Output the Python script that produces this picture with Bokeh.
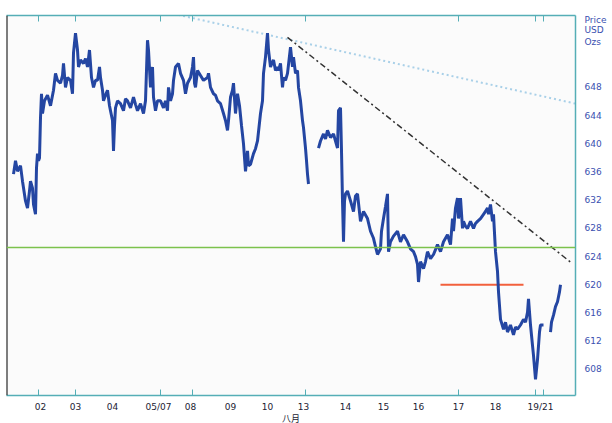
import numpy as np
from bokeh.plotting import figure
from bokeh.models import Range1d, LinearAxis, FixedTicker, Span
from bokeh.embed import file_html
from bokeh.resources import INLINE

NaN = float("nan")

# bar index (intraday bars) and price
bar = [5, 7, 9, 12, 14, 17, 19, 21, 22, 24, 25, 27, 28, 29, 30, 31, 32, 33, 34, 36,
       39, 42, 45, 47, 49, 52, 54, 55, 57, 59, 62, 64, 65, 67, 69, 70, 72, 75, 77, 79,
       81, 83, 85, 87, 89, 91, 92, 94, 95, 97, 99, 101, 102, 104, 105, 106, 107, 109, 112, 115,
       117, 119, 122, 125, 127, 129, 132, 135, 137, 139, 140, 142, 144, 145, 147, 149, 152, 155, 157, 159,
       160, 162, 164, 165, 167, 170, 172, 175, 177, 179, 182, 184, 185, 186, 187, 189, 192, 195, 199, 200,
       202, 205, 207, 209, 212, 215, 217, 219, 220, 222, 224, 225, 227, 229, 231, 233, 235, 237, 239, 240,
       242, 245, 247, 249, 252, 254, 255, 257, 259, 260, 262, 264, 265, 267, 269, 270, 272, 274, 275, 277,
       279, 282, 284, 285, 287, 289, 290, 292, 294, 295, 297, 298, 299, 300, 301,
       310, 312, 315, 317, 319, 322, 325, 327, 329, 330, 332, 333, 334, 335, 336, 337, 339, 342, 345, 347,
       349, 352, 355, 359, 362, 365, 367, 369, 372, 373, 375, 377, 379, 380, 382, 385, 389, 392, 395, 397,
       399, 402, 405, 407, 409, 410, 412, 415, 417, 419, 422, 425, 427, 429, 432, 435, 437, 439, 442, 444,
       445, 447, 449, 450, 452, 454, 455, 457, 459, 462, 465, 467, 469, 472, 475, 477, 479, 480, 482, 484,
       485, 487, 489, 490, 492, 495, 497, 499, 502, 505, 507, 509, 512, 515, 517, 519, 520, 522, 524, 525,
       527, 529, 531, 532, 535, 538,
       542, 543, 545, 547, 549, 551, 552]
price = [635.7, 637.6, 636.1, 636.9, 634.7, 631.9, 630.9, 633.3, 634.7, 633.7, 631.4, 630.0, 636.6, 638.6, 637.6, 638.0, 643.7, 647.1, 644.3, 646.1,
         646.9, 645.4, 647.6, 650.0, 649.0, 648.6, 649.7, 651.4, 648.0, 649.4, 649.0, 647.1, 652.9, 655.7, 653.3, 650.9, 651.9, 651.4, 652.1, 650.9,
         653.3, 649.4, 648.0, 649.0, 649.0, 650.9, 649.4, 647.6, 646.1, 646.9, 647.6, 645.4, 644.7, 643.3, 639.0, 642.6, 645.1, 646.1, 645.7, 644.7,
         646.4, 646.1, 645.1, 646.6, 645.6, 644.7, 645.7, 644.3, 646.1, 654.7, 653.3, 648.0, 650.9, 646.6, 644.7, 646.1, 646.1, 645.1, 646.1, 644.7,
         648.0, 646.1, 647.1, 649.0, 650.9, 651.4, 650.0, 649.0, 647.1, 648.6, 649.4, 650.9, 652.3, 648.6, 648.0, 650.4, 649.7, 649.0, 649.4, 650.0,
         648.0, 647.1, 646.9, 646.1, 645.7, 644.3, 643.3, 641.9, 643.3, 646.6, 647.6, 648.6, 644.3, 647.1, 645.4, 642.6, 640.0, 636.1, 639.0, 636.9,
         637.1, 638.6, 639.3, 640.4, 644.3, 646.1, 650.0, 652.3, 655.7, 653.3, 650.9, 651.6, 651.9, 650.4, 650.9, 650.4, 651.4, 648.0, 649.4, 649.0,
         650.0, 653.7, 650.9, 652.3, 650.0, 650.4, 648.0, 646.1, 643.3, 642.3, 639.4, 637.6, 635.7, 634.3, NaN,
         639.4, 640.4, 641.4, 640.7, 641.9, 640.9, 641.4, 640.4, 639.4, 644.7, 645.1, 639.0, 631.9, 626.1, 631.9, 632.9, 633.3, 631.9, 630.4, 632.6,
         632.9, 629.0, 630.4, 629.4, 627.6, 626.6, 625.4, 624.3, 625.1, 627.6, 629.4, 631.1, 632.9, 624.7, 626.1, 626.9, 627.6, 626.1, 627.1, 626.6,
         626.1, 625.1, 624.7, 624.0, 622.9, 620.4, 623.3, 622.3, 623.3, 624.7, 623.7, 624.3, 625.0, 625.7, 624.7, 626.1, 626.6, 627.1, 625.7, 629.4,
         627.6, 630.9, 632.3, 629.4, 632.3, 628.0, 629.0, 628.3, 628.0, 629.0, 628.0, 628.7, 629.0, 629.4, 630.0, 630.4, 630.9, 630.0, 631.4, 629.0,
         630.0, 624.7, 621.9, 619.0, 615.1, 613.7, 614.7, 613.3, 614.3, 612.9, 614.0, 613.7, 614.3, 615.1, 614.7, 616.1, 618.0, 614.3, 611.4, 610.0,
         606.6, 609.4, 613.3, 614.3, 614.3, NaN,
         613.3, 614.7, 615.7, 616.9, 617.6, 619.0, 620.0]

tick_bars = [32, 67, 104, 150, 182, 222, 259, 295, 337, 375, 410, 450, 487, 532]
tick_labels = ["02", "03", "04", "05/07", "08", "09", "10", "13", "14", "15", "16", "17", "18", "19/21"]
week_ticks = [30, 67, 152, 184, 297, 450, 527, 535]
price_ticks = [608, 612, 616, 620, 624, 628, 632, 636, 640, 644, 648]
unit_title = ["Price", "USD", "Ozs"]
unit_title_at = [657.6, 656.2, 654.5]
month_label = "八月"

support_level = 625.3
target_level = 620.0
target_bars = [432, 515]
long_trend_bars = [160, 567]
long_trend_prices = [658.6, 645.7]
short_trend_bars = [279, 564]
short_trend_prices = [655.1, 623.0]

TEAL = "#55aeb6"
BLUE = "#2446a2"
LABEL_BLUE = "#3a50b0"

p = figure(frame_width=569, frame_height=380,
           x_range=Range1d(-2, 567), y_range=Range1d(604.3, 658.2),
           output_backend="svg", toolbar_location=None,
           x_axis_location=None, y_axis_location=None,
           min_border_left=6, min_border_right=37,
           min_border_top=15, min_border_bottom=27)
p.grid.visible = False
p.background_fill_color = "#fbfbfb"
p.border_fill_color = "white"
p.outline_line_color = None

# right price axis (unit title sits at the top of the label column)
right = LinearAxis(ticker=FixedTicker(ticks=price_ticks + unit_title_at))
right.major_label_overrides = {v: t for v, t in zip(unit_title_at, unit_title)}
right.axis_line_color = TEAL
right.axis_line_width = 1.5
right.major_tick_line_color = None
right.minor_tick_line_color = None
right.major_label_standoff = 3
right.major_label_text_font = "DejaVu Sans"
right.major_label_text_font_size = "9px"
right.major_label_text_color = LABEL_BLUE
p.add_layout(right, "right")

bottom = LinearAxis(ticker=FixedTicker(ticks=tick_bars, minor_ticks=week_ticks))
bottom.major_label_overrides = {b: l for b, l in zip(tick_bars, tick_labels)}
bottom.axis_line_color = TEAL
bottom.axis_line_width = 1.5
bottom.major_tick_line_color = None
bottom.minor_tick_line_color = TEAL
bottom.minor_tick_in = 6
bottom.minor_tick_out = 0
bottom.major_label_standoff = 0
bottom.major_label_text_font = "DejaVu Sans"
bottom.major_label_text_font_size = "9px"
bottom.major_label_text_color = "#222233"
bottom.axis_label = month_label
bottom.axis_label_standoff = -3
bottom.axis_label_text_font = "Noto Sans CJK SC"
bottom.axis_label_text_font_style = "normal"
bottom.axis_label_text_font_size = "9px"
bottom.axis_label_text_color = "#222233"
p.add_layout(bottom, "below")

top = LinearAxis(ticker=FixedTicker(ticks=tick_bars, minor_ticks=week_ticks))
top.major_label_overrides = {b: "" for b in tick_bars}
top.axis_line_color = TEAL
top.axis_line_width = 1.5
top.major_tick_line_color = None
top.minor_tick_line_color = TEAL
top.minor_tick_in = 6
top.minor_tick_out = 0
top.major_label_standoff = 0
top.major_label_text_font_size = "1px"
p.add_layout(top, "above")

p.add_layout(Span(location=-2, dimension="height", line_color="black", line_width=2))

# annotation lines
p.line(long_trend_bars, long_trend_prices, line_color="#a9d0e8", line_width=2, line_dash="2 3")
p.add_layout(Span(location=support_level, dimension="width", line_color="#7cc24c", line_width=1.5))
p.line(target_bars, [target_level, target_level], line_color="#f2603c", line_width=2)
p.line(short_trend_bars, short_trend_prices, line_color="#333333", line_width=1.5, line_dash="6 3 2 3")

# price series
p.line(np.array(bar, dtype=float), np.array(price, dtype=float), line_color=BLUE, line_width=3)

open("out.html", "w").write(file_html(p, INLINE))
